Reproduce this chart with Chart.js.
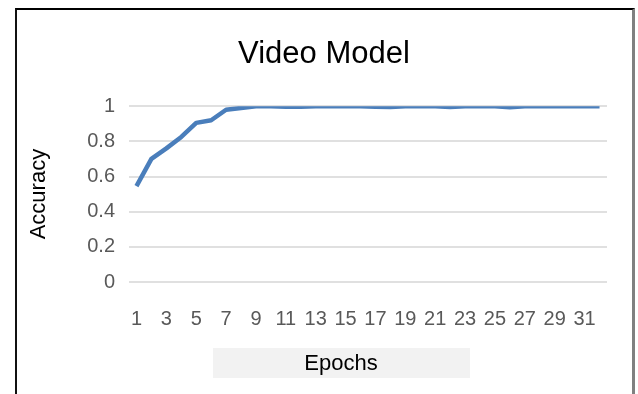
<!DOCTYPE html>
<html>
<head>
<meta charset="utf-8">
<script src="https://cdn.jsdelivr.net/npm/chart.js@4"></script>
<style>
  html, body { margin: 0; padding: 0; background: #fff; }
  #wrap { position: relative; width: 638px; height: 394px; overflow: hidden; }
  #frame {
    position: absolute; left: 15px; top: 8px; width: 615px; height: 420px;
    border-top: 2px solid #000; border-left: 2px solid #111; border-right: 3px solid #808080;
  }
  #video_model_chart { position: absolute; left: 0; top: 0; }
</style>
</head>
<body>
<div id="wrap">
  <div id="frame"></div>
  <canvas id="video_model_chart" width="638" height="394"></canvas>
</div>
<script>
    var epochs = [1, 2, 3, 4, 5, 6, 7, 8, 9, 10, 11, 12, 13, 14, 15, 16,
                  17, 18, 19, 20, 21, 22, 23, 24, 25, 26, 27, 28, 29, 30, 31, 32];
    var accuracy = [0.545, 0.70, 0.76, 0.825, 0.905, 0.92, 0.98, 0.99, 1.0, 1.0, 0.997, 0.997, 1.0, 1.0, 1.0, 1.0,
                    0.997, 0.995, 1.0, 1.0, 1.0, 0.996, 1.0, 1.0, 1.0, 0.994, 1.0, 1.0, 1.0, 1.0, 1.0, 1.0];
    var yTicks = ["0", "0.2", "0.4", "0.6", "0.8", "1"];
    var chartTitle = "Video Model";
    var yTitle = "Accuracy";
    var xTitle = "Epochs";

    var FONT = "'Liberation Sans', Arial, sans-serif";

    // Excel style x title: grey band with the label, not centred on the plot
    var xTitleBox = {
        id: 'xTitleBox',
        afterDraw: function (chart) {
            var ctx = chart.ctx;
            ctx.save();
            ctx.fillStyle = "#f2f2f2";
            ctx.fillRect(213, 348, 257, 30);
            ctx.fillStyle = "#000";
            ctx.font = "22px " + FONT;
            ctx.textAlign = "center";
            ctx.textBaseline = "middle";
            ctx.fillText(xTitle, 341, 364);
            ctx.restore();
        }
    };

    var ctx = document.getElementById("video_model_chart");
    var myChart = new Chart(ctx, {
        type: 'line',
        data: {
            labels: epochs,
            datasets: [{
                label: yTitle,
                data: accuracy,
                borderColor: "#4a7ebb",
                backgroundColor: "#4a7ebb",
                borderWidth: 4.5,
                pointRadius: 0,
                tension: 0,
                borderJoinStyle: 'round',
            }]
        },
        options: {
            responsive: false,
            animation: false,
            // left padding also shifts the chart title so it sits where Excel put it
            layout: { padding: { left: 41, right: 31, top: 0, bottom: 0 } },
            plugins: {
                legend: { display: false },
                tooltip: { enabled: false },
                title: {
                    display: true,
                    text: chartTitle,
                    color: "#000",
                    font: { family: FONT, size: 31, weight: 'normal' },
                    padding: { top: 36, bottom: 33 },
                },
            },
            scales: {
                x: {
                    offset: true,
                    grid: { display: false },
                    border: { display: false },
                    ticks: {
                        autoSkip: false,
                        maxRotation: 0,
                        padding: 17,
                        color: "#595959",
                        font: { family: FONT, size: 20 },
                        callback: function (val, i) {
                            return i % 2 === 0 ? epochs[i] : '';
                        },
                    },
                    afterFit: function (scale) { scale.height = 112; },
                },
                y: {
                    min: 0,
                    max: 1,
                    grid: { color: "#e0e0e0", lineWidth: 2, drawTicks: false },
                    border: { display: false },
                    ticks: {
                        stepSize: 0.2,
                        padding: 14,
                        color: "#595959",
                        font: { family: FONT, size: 20 },
                        callback: function (val, i) { return yTicks[i]; },
                    },
                    title: {
                        display: true,
                        text: yTitle,
                        color: "#000",
                        font: { family: FONT, size: 22 },
                        padding: { top: -15, bottom: 0 },
                    },
                    afterFit: function (scale) { scale.width = 88; },
                },
            },
        },
        plugins: [xTitleBox],
    });
</script>
</body>
</html>
